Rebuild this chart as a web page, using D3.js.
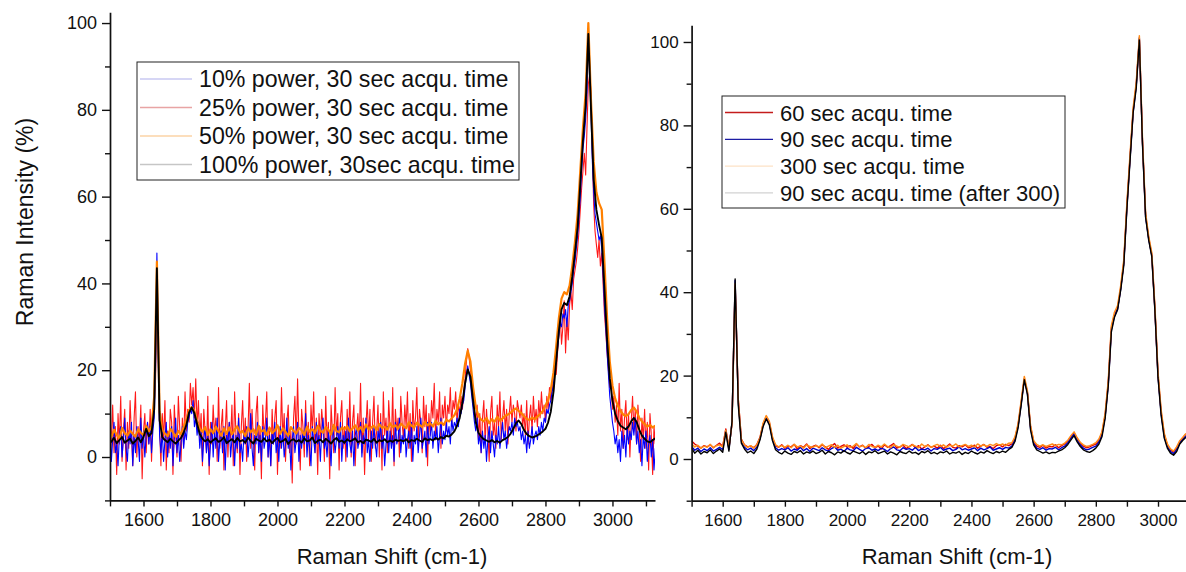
<!DOCTYPE html>
<html>
<head>
<meta charset="utf-8">
<script src="https://cdn.jsdelivr.net/npm/d3@7"></script>
<style>
  body { margin: 0; background: #fff; }
  svg text { font-family: "Liberation Sans", Arial, sans-serif; fill: #111; }
</style>
</head>
<body>
<svg width="1186" height="572"></svg>
<script>
// Raman shift grids (cm-1)
const leftShiftFine = d3.range(1496, 3129, 4); // 409 points, noisy series
const leftShift = d3.range(1496, 3129, 8);     // 205 points
const rightShift = d3.range(1500, 3091, 10);   // 160 points

// Left panel: laser power series, 30 sec acquisition (intensity %)
const power10 = [
  2, 6, -1, 4, 8, 1, 3, -2, 5, 7,
  0, 4, 9, 2, -1, 6, 3, 8, -2, 5,
  1, 7, 4, -1, 9, 2, 6, 0, 5, 8,
  3, 7, 1, 6, 9, 20, 47, 26, 5, 1,
  6, -1, 4, 8, 0, 5, 2, 7, -2, 4,
  9, 1, 5, -1, 3, 7, 2, 6, 4, 8,
  9, 11, 10, 13, 7, 9, 5, 8, 2, 6,
  -1, 4, 7, 1, 5, -2, 3, 8, 0, 6,
  2, 9, -1, 4, 6, 1, 7, -3, 5, 3,
  8, 0, 4, 6, -2, 5, 2, 9, 1, 3,
  -1, 6, 3, 7, 0, 4, 10, 2, -2, 5,
  3, 8, 1, 5, -1, 7, 2, 4, 9, 0,
  5, -2, 6, 3, 8, 1, 4, -1, 7, 2,
  6, 0, 3, 9, 2, 5, -3, 4, 7, 1,
  4, 8, -1, 5, 2, 6, 3, 10, 0, 5,
  2, -2, 7, 4, 1, 8, 3, 5, -1, 6,
  9, 2, 4, 0, 6, 3, -2, 7, 5, 1,
  4, 7, 2, 8, -1, 5, 3, 6, 0, 9,
  3, 1, 6, -2, 5, 7, 2, 4, 8, 0,
  5, 3, 9, 1, 4, -1, 6, 2, 7, 3,
  0, 6, 4, 8, 2, 5, -2, 3, 7, 1,
  6, 2, 5, -1, 8, 3, 4, 9, 1, 5,
  3, 7, 0, 4, 6, 2, 8, -1, 5, 3,
  7, 1, 5, 9, 2, 4, 6, 0, 8, 3,
  5, 8, 2, 6, 4, 7, 1, 5, 9, 3,
  6, 4, 8, 5, 7, 3, 9, 6, 8, 7,
  9, 7, 11, 10, 12, 13, 16, 19, 21, 19,
  17, 14, 11, 8, 6, 9, 3, 5, 1, 6,
  2, 5, -1, 4, 7, 1, 6, 3, 0, 5,
  3, 7, 2, 5, 8, 4, 6, 2, 5, 7,
  6, 8, 5, 9, 7, 8, 6, 7, 4, 6,
  3, 5, 1, 6, 2, 4, 7, 3, 5, 6,
  4, 7, 5, 8, 6, 9, 8, 11, 10, 12,
  13, 15, 17, 20, 22, 25, 28, 31, 30, 33,
  32, 34, 30, 35, 36, 38, 40, 43, 45, 48,
  51, 55, 60, 66, 71, 74, 78, 84, 95, 90,
  79, 68, 61, 56, 54, 52, 50, 51, 48, 42,
  35, 30, 24, 19, 14, 11, 8, 6, 3, 5,
  1, 4, -1, 6, 2, 5, 0, 7, 3, 6,
  4, 8, 5, 9, 3, 6, 1, 4, -2, 5,
  2, 6, -1, 3, 5, 0, 4, -3, 2
];
const power25 = [
  9, -2, 4, 12, 1, 7, -4, 10, 3, 14,
  -1, 6, 11, -3, 8, 2, 13, 5, -2, 9,
  15, 0, 7, 4, 12, -5, 6, 10, 1, 8,
  3, 11, -1, 9, 12, 18, 39, 24, 7, -2,
  10, 4, 13, -3, 6, 1, 11, 8, -4, 12,
  5, 0, 14, 7, -1, 9, 3, 15, 6, 11,
  8, 17, 12, 16, 9, 18, 7, 13, 4, 10,
  -2, 11, 6, 1, 14, -4, 8, 3, 12, 5,
  9, -1, 16, 2, 7, 11, -3, 6, 13, 0,
  8, 4, 12, -2, 15, 5, 1, 10, -4, 7,
  13, 3, 9, -1, 6, 17, 2, 11, 4, -3,
  10, 14, 1, 7, -5, 12, 5, 8, 15, 0,
  6, -2, 11, 3, 9, 13, -4, 7, 2, 16,
  4, 10, -1, 8, 12, 1, 6, -6, 9, 14,
  3, 18, 5, -3, 11, 7, 0, 13, 2, 8,
  -2, 12, 6, 15, 1, 9, -4, 10, 4, 11,
  7, -1, 14, 3, 8, -5, 12, 6, 1, 16,
  5, 10, -3, 9, 13, 2, 7, -1, 11, 4,
  15, 0, 8, 12, -2, 6, 10, 3, 17, 1,
  9, -4, 7, 13, 4, 11, -1, 8, 14, 2,
  6, 12, 0, 10, -3, 15, 5, 9, 1, 13,
  7, 3, 16, -2, 11, 6, 9, 0, 14, 8,
  4, 12, 7, 15, 2, 10, -1, 13, 6, 9,
  16, 3, 11, 8, 1, 14, 7, 12, -2, 10,
  5, 13, 9, 17, 4, 11, 8, 15, 2, 12,
  9, 14, 6, 12, 10, 16, 7, 13, 11, 15,
  8, 12, 10, 14, 11, 15, 18, 22, 25, 23,
  20, 17, 13, 11, 8, 12, 4, 10, 1, 9,
  13, 3, 11, 6, -1, 10, 14, 5, 8, 2,
  12, 7, 15, 4, 9, 13, 6, 11, 3, 10,
  14, 8, 12, 10, 6, 13, 11, 9, 12, 7,
  10, 5, 13, 3, 9, 12, 6, 14, 8, 11,
  7, 13, 9, 15, 10, 12, 8, 14, 11, 16,
  13, 17, 15, 20, 19, 24, 28, 33, 26, 30,
  36, 24, 32, 27, 35, 38, 34, 41, 43, 45,
  48, 52, 57, 62, 66, 70, 65, 76, 86, 88,
  84, 70, 58, 52, 49, 46, 50, 44, 47, 40,
  33, 29, 24, 20, 16, 18, 11, 14, 8, 12,
  5, 17, 6, 11, 2, 9, 13, 4, 10, 0,
  8, 14, 6, 11, 3, 12, 7, -1, 9, 4,
  11, 2, 8, -3, 10, 5, -4, 7, 3
];
const power50 = [
  5.8, 4.6, 6.3, 5.1, 4.2, 6.7, 5.5, 4.9, 6.1, 5.3,
  4.7, 6.4, 5.6, 5.0, 7.2, 5.9, 7.0, 14.0, 45.0, 10.5,
  6.2, 5.4, 4.8, 6.5, 5.7, 4.6, 6.0, 5.2, 7.0, 8.6,
  10.8, 11.5, 10.6, 8.4, 6.5, 5.8, 6.9, 5.1, 6.4, 5.5,
  7.0, 5.9, 4.9, 6.6, 5.4, 6.8, 5.2, 6.3, 7.1, 5.6,
  6.0, 4.8, 6.7, 5.7, 6.4, 5.1, 7.2, 5.9, 6.2, 5.0,
  6.8, 5.5, 6.1, 7.3, 5.3, 6.6, 5.8, 4.9, 6.9, 6.0,
  5.4, 6.7, 6.2, 5.1, 7.0, 5.8, 6.4, 5.5, 7.2, 6.1,
  5.6, 6.9, 6.3, 5.2, 7.4, 6.0, 5.7, 6.8, 6.4, 7.1,
  5.9, 6.6, 7.3, 6.1, 6.9, 5.8, 7.5, 6.4, 6.8, 7.2,
  6.2, 7.6, 6.7, 7.0, 6.3, 7.8, 6.9, 7.3, 6.5, 7.7,
  7.1, 6.6, 8.0, 7.2, 6.8, 7.9, 7.4, 6.9, 8.1, 7.3,
  7.8, 7.0, 8.3, 7.5, 8.0, 7.4, 8.6, 8.2, 8.9, 9.6,
  11.0, 13.5, 17.0, 21.5, 24.5, 22.0, 16.0, 11.5, 9.5, 8.6,
  8.2, 9.0, 7.8, 8.7, 8.1, 9.3, 8.4, 8.9, 9.5, 9.8,
  10.2, 10.8, 11.2, 10.6, 10.1, 9.4, 8.8, 8.5, 9.1, 8.7,
  9.3, 9.9, 10.6, 11.8, 13.2, 15.5, 19.5, 25.5, 32.0, 36.5,
  38.0, 37.5, 39.5, 44.0, 49.5, 56.0, 66.0, 76.0, 84.0, 100.0,
  82.0, 68.0, 61.0, 58.5, 57.0, 45.0, 32.0, 22.0, 16.5, 13.5,
  11.8, 10.6, 9.8, 9.4, 9.9, 10.8, 11.4, 10.5, 9.0, 8.2,
  7.6, 7.0, 7.4, 6.8, 7.2
];
const power100 = [
  4.1, 3.5, 4.4, 3.2, 3.9, 4.6, 3.3, 3.8, 4.2, 3.1,
  3.7, 4.5, 3.4, 4.6, 6.5, 4.8, 5.5, 11.0, 43.5, 8.5,
  4.6, 3.9, 3.4, 4.2, 3.6, 3.1, 3.8, 4.4, 5.6, 7.4,
  10.2, 11.4, 10.1, 7.6, 5.3, 4.2, 3.6, 4.1, 3.3, 3.9,
  4.3, 3.5, 3.8, 4.6, 3.2, 3.7, 4.1, 3.4, 4.4, 3.6,
  3.9, 3.3, 4.5, 3.7, 3.1, 4.2, 3.8, 3.5, 4.3, 3.6,
  4.0, 3.2, 3.9, 4.4, 3.4, 3.7, 4.2, 3.0, 3.8, 4.1,
  3.5, 3.9, 3.3, 4.3, 3.6, 3.8, 4.5, 3.2, 3.7, 4.0,
  3.4, 4.2, 3.7, 3.1, 3.9, 4.4, 3.5, 3.8, 3.3, 4.1,
  3.6, 3.9, 4.3, 3.4, 3.7, 3.2, 4.0, 3.8, 3.5, 4.2,
  3.3, 3.9, 3.6, 4.1, 3.4, 3.8, 3.5, 4.0, 3.7, 3.9,
  3.6, 4.1, 3.4, 3.9, 3.7, 4.2, 3.8, 3.5, 4.3, 3.9,
  4.1, 3.8, 4.4, 4.0, 4.6, 4.3, 4.9, 4.7, 5.2, 5.9,
  7.2, 9.0, 12.5, 17.0, 20.2, 18.5, 13.0, 8.0, 5.6, 4.7,
  4.1, 3.8, 3.5, 3.9, 3.4, 3.7, 3.3, 3.9, 4.2, 4.6,
  5.4, 6.5, 7.8, 8.4, 7.6, 6.2, 5.3, 4.8, 4.5, 4.7,
  5.0, 5.4, 5.9, 6.5, 8.0, 10.5, 15.0, 22.0, 29.0, 34.0,
  35.5, 35.0, 37.0, 41.5, 47.0, 53.0, 63.0, 73.0, 81.0, 97.5,
  80.0, 64.0, 57.0, 53.5, 50.5, 39.0, 27.0, 18.0, 13.0, 10.0,
  8.3, 7.2, 6.8, 6.4, 7.0, 8.2, 9.0, 8.1, 6.3, 4.9,
  4.2, 3.6, 3.4, 3.9, 4.3
];

// Right panel: acquisition time series (intensity %)
const acq60 = [
  4.3, 3.6, 3.1, 2.6, 3.2, 2.9, 3.4, 2.7, 3.3, 3.8,
  3.0, 7.2, 2.6, 8.6, 41.5, 14.5, 4.8, 3.4, 2.9, 3.1,
  2.7, 3.5, 5.2, 8.4, 10.2, 8.8, 5.1, 3.2, 2.8, 3.4,
  2.6, 3.1, 2.9, 3.5, 2.4, 3.2, 2.8, 3.6, 2.5, 3.0,
  3.3, 2.7, 3.4, 2.9, 2.3, 3.1, 3.7, 2.6, 3.0, 3.4,
  2.8, 3.2, 2.5, 3.6, 2.9, 3.3, 2.6, 3.0, 3.5, 2.7,
  3.1, 2.4, 3.4, 2.8, 3.2, 3.7, 2.6, 2.9, 3.3, 2.5,
  3.0, 3.5, 2.7, 3.2, 2.4, 2.9, 3.4, 2.8, 3.1, 2.6,
  3.3, 2.5, 3.0, 3.6, 2.8, 2.6, 3.2, 2.9, 3.4, 2.7,
  2.9, 3.3, 2.6, 3.1, 3.5, 2.8, 3.0, 2.5, 3.2, 3.4,
  2.9, 3.5, 3.2, 3.6, 5.0, 8.2, 13.6, 19.3, 16.0, 7.8,
  4.2, 3.1, 2.8, 3.3, 2.6, 3.0, 2.9, 3.4, 2.7, 3.2,
  3.6, 4.3, 5.4, 6.3, 4.9, 3.8, 3.1, 2.7, 2.9, 3.3,
  3.6, 4.5, 6.3, 10.6, 18.3, 31.5, 34.6, 36.2, 41.0, 47.2,
  60.8, 72.3, 83.6, 89.8, 100.8, 76.2, 58.6, 53.0, 49.0, 36.0,
  20.2, 11.3, 5.9, 3.4, 2.2, 1.7, 2.7, 4.2, 5.1, 6.0
];
const acq90 = [
  3.0, 2.1, 2.6, 1.8, 2.4, 2.0, 2.7, 1.9, 2.3, 2.8,
  2.2, 6.8, 2.3, 8.7, 42.8, 13.8, 4.3, 2.8, 2.2, 2.6,
  2.0, 2.9, 4.9, 8.1, 9.9, 8.5, 4.8, 2.7, 2.1, 2.5,
  2.2, 2.7, 1.9, 2.4, 2.1, 2.8, 2.0, 2.5, 1.8, 2.6,
  2.3, 2.0, 2.7, 2.2, 1.9, 2.5, 2.9, 2.1, 2.4, 1.8,
  2.6, 2.2, 2.0, 2.8, 2.3, 1.9, 2.5, 2.7, 2.1, 2.4,
  2.0, 2.6, 2.3, 1.8, 2.5, 2.9, 2.2, 2.0, 2.7, 2.3,
  2.5, 2.1, 2.8, 2.0, 2.4, 2.2, 2.6, 1.9, 2.5, 2.3,
  2.8, 2.1, 2.4, 2.6, 2.0, 2.3, 2.9, 2.2, 2.5, 2.1,
  2.4, 2.7, 2.0, 2.6, 2.2, 2.5, 2.9, 2.1, 2.4, 2.7,
  2.3, 2.8, 2.6, 3.1, 4.6, 7.9, 13.3, 19.2, 15.8, 7.4,
  3.8, 2.6, 2.3, 2.7, 2.1, 2.5, 2.4, 2.8, 2.2, 2.7,
  3.1, 3.9, 5.0, 6.0, 4.5, 3.4, 2.6, 2.2, 2.4, 2.8,
  3.1, 4.1, 5.9, 10.2, 17.9, 31.0, 34.3, 36.0, 40.8, 47.0,
  60.5, 72.0, 83.2, 89.5, 101.0, 76.0, 58.2, 52.8, 48.8, 35.8,
  19.9, 10.9, 5.4, 3.0, 1.8, 1.3, 2.3, 3.9, 4.8, 5.6
];
const acq300 = [
  3.6, 2.9, 3.3, 2.6, 3.1, 2.8, 3.5, 2.7, 3.2, 3.4,
  2.9, 6.9, 2.7, 8.4, 42.0, 14.2, 4.6, 3.3, 2.8, 3.2,
  2.6, 3.4, 5.1, 8.6, 10.4, 9.0, 5.3, 3.4, 2.9, 3.2,
  2.8, 3.3, 2.7, 3.5, 2.9, 3.1, 2.6, 3.4, 3.0, 2.8,
  3.2, 2.9, 3.6, 2.7, 3.1, 3.4, 2.8, 3.3, 2.6, 3.0,
  3.4, 2.8, 3.1, 3.7, 2.9, 3.2, 2.7, 3.5, 3.0, 2.8,
  3.3, 2.9, 3.6, 3.0, 2.7, 3.4, 3.1, 2.8, 3.5, 3.2,
  2.9, 3.4, 3.1, 2.7, 3.6, 3.0, 3.3, 2.8, 3.2, 3.5,
  3.0, 3.4, 2.8, 3.3, 3.1, 3.6, 2.9, 3.2, 3.5, 3.0,
  3.3, 2.9, 3.6, 3.1, 3.4, 3.0, 3.5, 3.2, 3.7, 3.3,
  3.6, 3.2, 3.8, 3.9, 5.3, 8.5, 14.0, 19.8, 16.3, 8.0,
  4.4, 3.5, 3.1, 3.4, 3.0, 3.3, 3.6, 3.2, 3.5, 3.4,
  3.8, 4.5, 5.6, 6.5, 5.1, 4.0, 3.4, 3.0, 3.2, 3.5,
  3.9, 4.8, 6.6, 11.0, 18.8, 32.0, 35.2, 36.8, 41.6, 47.8,
  61.5, 73.0, 84.2, 90.4, 101.5, 76.8, 59.0, 53.4, 49.4, 36.6,
  20.8, 11.8, 6.2, 3.6, 2.4, 1.9, 2.9, 4.4, 5.2, 6.1
];
const acq90after = [
  2.6, 1.4, 2.1, 1.2, 1.8, 1.5, 2.2, 1.3, 1.9, 2.4,
  1.6, 6.4, 1.9, 9.0, 43.2, 13.0, 3.8, 2.4, 1.5, 1.9,
  1.3, 2.4, 4.6, 7.8, 9.6, 8.2, 4.4, 2.2, 1.6, 1.2,
  1.9, 1.4, 1.1, 1.8, 1.5, 2.0, 1.2, 1.7, 1.4, 1.9,
  1.3, 1.6, 2.1, 1.2, 1.8, 1.5, 1.0, 1.7, 1.4, 2.0,
  1.5, 1.2, 1.9, 1.6, 1.3, 1.8, 1.1, 1.7, 1.5, 2.0,
  1.3, 1.6, 1.9, 1.2, 1.7, 1.4, 1.0, 1.8, 1.5, 1.3,
  1.9, 1.4, 1.6, 1.1, 1.8, 1.5, 2.0, 1.3, 1.6, 1.2,
  1.7, 1.5, 1.9, 1.2, 1.6, 1.4, 1.8, 1.1, 1.6, 1.3,
  1.9, 1.5, 1.2, 1.7, 1.4, 2.0, 1.6, 1.3, 1.8, 1.5,
  1.9, 1.6, 2.3, 2.8, 4.2, 7.5, 13.0, 19.0, 15.5, 7.0,
  3.4, 2.2, 1.8, 1.4, 1.7, 1.3, 1.6, 1.5, 1.9, 2.2,
  2.7, 3.5, 4.6, 5.6, 4.1, 3.0, 2.2, 1.8, 1.6, 2.0,
  2.6, 3.6, 5.4, 9.8, 17.5, 30.5, 34.0, 35.8, 40.5, 46.5,
  60.0, 71.5, 83.0, 89.0, 100.5, 75.5, 58.0, 52.5, 48.5, 35.5,
  19.5, 10.5, 5.0, 2.6, 1.4, 0.9, 1.8, 3.6, 4.5, 5.2
];

// axis ticks
const xTicks = d3.range(1500, 3101, 100);
const xLabels = [1600, 1800, 2000, 2200, 2400, 2600, 2800, 3000];
const yTicks = [-10, 0, 10, 20, 30, 40, 50, 60, 70, 80, 90, 100];
const yLabels = [0, 20, 40, 60, 80, 100];

const leftNames = ["10% power, 30 sec acqu. time", "25% power, 30 sec acqu. time",
                   "50% power, 30 sec acqu. time", "100% power, 30sec acqu. time"];
const rightNames = ["60 sec acqu. time", "90 sec acqu. time",
                    "300 sec acqu. time", "90 sec acqu. time (after 300)"];

const svg = d3.select("svg");

function drawPanel(p) {
  const x = d3.scaleLinear().domain(p.xDomain).range(p.xRange);
  const y = d3.scaleLinear().domain(p.yDomain).range(p.yRange);
  const g = svg.append("g");

  g.append("clipPath").attr("id", p.id)
    .append("rect")
    .attr("x", p.xRange[0]).attr("y", p.yRange[1])
    .attr("width", p.xRange[1] - p.xRange[0])
    .attr("height", p.yRange[0] - p.yRange[1]);

  // spectra, smoothest drawn last
  p.order.forEach(i => {
    const s = p.series[i];
    const line = d3.line().x((d, k) => x(s.shift[k])).y(d => y(d));
    g.append("path")
      .datum(s.values)
      .attr("clip-path", `url(#${p.id})`)
      .attr("fill", "none")
      .attr("stroke", s.color)
      .attr("stroke-width", s.width)
      .attr("stroke-opacity", s.opacity)
      .attr("stroke-linejoin", "round")
      .attr("d", line);
  });

  // x axis
  const xa = g.append("g")
    .attr("transform", `translate(0,${p.yRange[0]})`)
    .call(d3.axisBottom(x).tickValues(xTicks.filter(t => t <= p.xDomain[1]))
      .tickSize(6).tickSizeOuter(0).tickPadding(7)
      .tickFormat(d => xLabels.includes(d) ? d : ""));
  xa.selectAll("text").attr("font-size", p.tickFont).style("font-family", "Liberation Sans, Arial, sans-serif");

  // y axis
  const ya = g.append("g")
    .attr("transform", `translate(${p.xRange[0]},0)`)
    .call(d3.axisLeft(y).tickValues(yTicks).tickSize(8).tickSizeOuter(0).tickPadding(5)
      .tickFormat(d => yLabels.includes(d) ? d : ""));
  ya.selectAll(".tick line").attr("x2", d => yLabels.includes(d) ? -8 : -5);
  ya.selectAll("text").attr("font-size", p.tickFont).style("font-family", "Liberation Sans, Arial, sans-serif");

  [xa, ya].forEach(a => {
    a.select(".domain").attr("stroke", "#111").attr("stroke-width", 1.7);
    a.selectAll(".tick line").attr("stroke", "#111").attr("stroke-width", 1.4);
  });

  // x title
  g.append("text")
    .attr("x", p.titleX).attr("y", 564)
    .attr("text-anchor", "middle")
    .attr("font-size", 22)
    .text("Raman Shift (cm-1)");

  // legend
  const lg = p.legend;
  g.append("rect")
    .attr("x", lg.x).attr("y", lg.y).attr("width", lg.w).attr("height", lg.h)
    .attr("fill", "#fff").attr("stroke", "#222").attr("stroke-width", 1);
  p.names.forEach((name, i) => {
    const yy = lg.y + lg.first + i * lg.step;
    g.append("line")
      .attr("x1", lg.x + 3).attr("x2", lg.x + lg.sample)
      .attr("y1", yy).attr("y2", yy)
      .attr("stroke", lg.colors[i]).attr("stroke-width", 1.3);
    g.append("text")
      .attr("x", lg.x + lg.sample + 7).attr("y", yy + 8)
      .attr("font-size", lg.font)
      .text(name);
  });
}

drawPanel({
  id: "clipLeft",
  xDomain: [1500, 3127], xRange: [110, 655],
  yDomain: [-10, 102.5], yRange: [500.4, 12.2],
  tickFont: 18,
  titleX: 392,
  order: [1, 0, 2, 3],
  series: [
    { shift: leftShiftFine, values: power10, color: "#0000ff", width: 1.1, opacity: 1 },
    { shift: leftShiftFine, values: power25, color: "#ff0000", width: 1.1, opacity: 0.9 },
    { shift: leftShift, values: power50, color: "#ff8000", width: 2.2, opacity: 1 },
    { shift: leftShift, values: power100, color: "#000000", width: 1.9, opacity: 1 }
  ],
  names: leftNames,
  legend: { x: 137, y: 62, w: 382, h: 118, first: 17, step: 28.5, sample: 55, font: 23.2,
            colors: ["#c8c8f2", "#e8a4a4", "#fbd3a6", "#c6c6c6"] }
});

drawPanel({
  id: "clipRight",
  xDomain: [1500, 3090], xRange: [691.6, 1186],
  yDomain: [-10, 104], yRange: [500.7, 25.3],
  tickFont: 17,
  titleX: 957,
  order: [0, 1, 2, 3],
  series: [
    { shift: rightShift, values: acq60, color: "#e00000", width: 1.4, opacity: 1 },
    { shift: rightShift, values: acq90, color: "#0000c8", width: 1.4, opacity: 1 },
    { shift: rightShift, values: acq300, color: "#ff8c1a", width: 1.5, opacity: 1 },
    { shift: rightShift, values: acq90after, color: "#000000", width: 1.4, opacity: 1 }
  ],
  names: rightNames,
  legend: { x: 722, y: 96, w: 343, h: 112, first: 16.5, step: 26.8, sample: 51, font: 22,
            colors: ["#c41c1c", "#1c1ca4", "#fde2c6", "#d2d2d2"] }
});

// y title of the left panel
svg.append("text")
  .attr("transform", "translate(33,222) rotate(-90)")
  .attr("text-anchor", "middle")
  .attr("font-size", 23)
  .text("Raman Intensity (%)");
</script>
</body>
</html>
